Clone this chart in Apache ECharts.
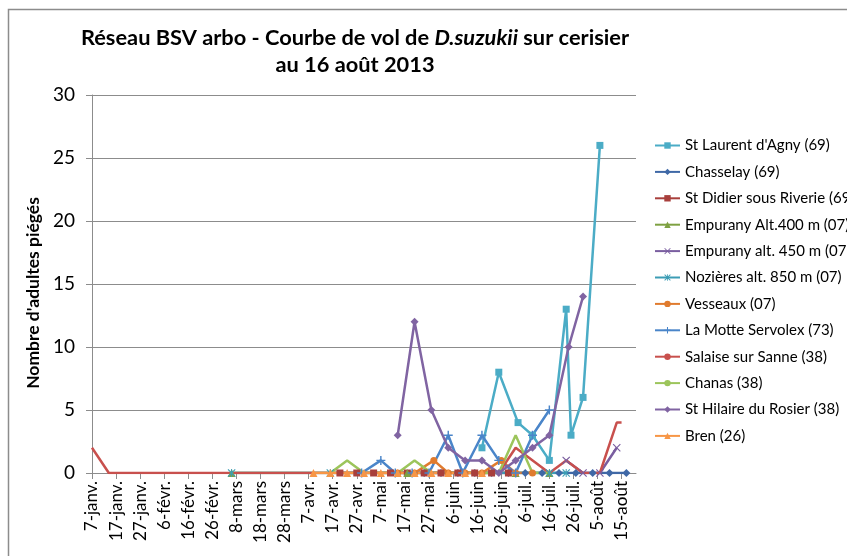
<!DOCTYPE html>
<html>
<head>
<meta charset="utf-8">
<script src="https://cdn.jsdelivr.net/npm/echarts@6/dist/echarts.min.js"></script>
<style>html,body{margin:0;padding:0;background:#fff;}#c{width:847px;height:556px;}</style>
</head>
<body>
<div id="c"></div>
<script>
// x values are day offsets from 7 janv. 2013
var tickLabels = ['7-janv.','17-janv.','27-janv.','6-févr.','16-févr.','26-févr.','8-mars','18-mars','28-mars','7-avr.','17-avr.','27-avr.','7-mai','17-mai','27-mai','6-juin','16-juin','26-juin','6-juil.','16-juil.','26-juil.','5-août','15-août'];

var seriesNames = ["St Laurent d'Agny (69)","Chasselay (69)","St Didier sous Riverie (69)","Empurany Alt.400 m (07)","Empurany alt. 450 m (07)","Nozières alt. 850 m (07)","Vesseaux (07)","La Motte Servolex (73)","Salaise sur Sanne (38)","Chanas (38)","St Hilaire du Rosier (38)","Bren (26)"];

var stLaurentDays = [162,169,177,183,190,197,199,204,211];
var stLaurentVals = [2,8,4,3,1,13,3,6,26];
var chasselayDays = [138,145,152,159,166,173,180,187,194,201,208,215,222];
var chasselayVals = [0,0,0,0,0,0,0,0,0,0,0,0,0];
var stDidierDays = [103,110,117,124,131,138,145,152,159,166,173];
var stDidierVals = [0,0,0,0,0,0,0,0,0,0,0];
var empurany400Days = [58,131,176,190];
var empurany400Vals = [0,0,0,0];
var empurany450Days = [197,204,211,218];
var empurany450Vals = [1,0,0,2];
var nozieresDays = [58,99,190,197];
var nozieresVals = [0,0,0,0];
var vesseauxDays = [127,134,142,148,155,162,170,176,183];
var vesseauxVals = [0,0,1,0,0,0,1,0,0];
var laMotteDays = [112,120,126,133,140,148,154,162,169,176,183,190];
var laMotteVals = [0,1,0,0,0,3,0,3,1,0,3,5];
var salaiseDays = [0,7,14,28,58,91,120,148,169,176,190,197,204,211,218,220];
var salaiseVals = [2,0,0,0,0,0,0,0,0,2,0,1,0,0,4,4];
var chanasDays = [99,106,113,120,127,134,141,148,155,162,169,176,183,190];
var chanasVals = [0,1,0,0,0,1,0,0,0,0,0,3,0,0];
var stHilaireDays = [127,134,141,148,155,162,169,176,183,190,198,204];
var stHilaireVals = [3,12,5,2,1,1,0,1,2,3,10,14];
var brenDays = [92,99,106,113,120,127,134,141,148,155,162];
var brenVals = [0,0,0,0,0,0,0,0,0,0,0];

var FONT = 'Lato';
var symX = 'path://M0,1L1,0L5,4L9,0L10,1L6,5L10,9L9,10L5,6L1,10L0,9L4,5Z';
var symPlus = 'path://M4.2,0H5.8V4.2H10V5.8H5.8V10H4.2V5.8H0V4.2H4.2Z';
var symStar = 'path://M0,1L1,0L5,4L9,0L10,1L6,5L10,9L9,10L5,6L1,10L0,9L4,5Z M4.4,0H5.6V10H4.4Z';

function pairs(d, v) { return d.map(function (x, i) { return [x, v[i]]; }); }

var defs = [
  [stLaurentDays, stLaurentVals, '#4BACC6', 'rect', 7],
  [chasselayDays, chasselayVals, '#3F68A6', 'diamond', 8],
  [stDidierDays, stDidierVals, '#A83F3C', 'rect', 7],
  [empurany400Days, empurany400Vals, '#7EA142', 'triangle', 8],
  [empurany450Days, empurany450Vals, '#7A5EA0', symX, 8],
  [nozieresDays, nozieresVals, '#3C9DB5', symStar, 8],
  [vesseauxDays, vesseauxVals, '#E07B2E', 'circle', 7],
  [laMotteDays, laMotteVals, '#4A85C9', symPlus, 9],
  [salaiseDays, salaiseVals, '#C8504D', 'none', 0],
  [chanasDays, chanasVals, '#9CC55B', 'none', 0],
  [stHilaireDays, stHilaireVals, '#8064A2', 'diamond', 8],
  [brenDays, brenVals, '#F79646', 'triangle', 8]
];

var series = defs.map(function (d, i) {
  return {
    name: seriesNames[i],
    type: 'line',
    data: pairs(d[0], d[1]),
    symbol: d[3],
    symbolSize: d[4],
    showSymbol: d[3] !== 'none',
    lineStyle: { color: d[2], width: 2.5 },
    itemStyle: { color: d[2], borderWidth: 0 },
    emphasis: { disabled: true },
    animation: false
  };
});

var chart = echarts.init(document.getElementById('c'), null, { renderer: 'canvas' });
chart.setOption({
  backgroundColor: '#fff',
  animation: false,
  title: {
    text: '{a|Réseau BSV arbo - Courbe de vol de }{i|D.suzukii}{a| sur cerisier}\n{a|au 16 août 2013}',
    left: 350,
    top: 19,
    textAlign: 'center',
    textStyle: {
      rich: {
        a: { fontFamily: FONT, fontWeight: 'bold', fontSize: 21.8, lineHeight: 27, color: '#000' },
        i: { fontFamily: FONT, fontWeight: 'bold', fontStyle: 'italic', fontSize: 21.8, lineHeight: 27, color: '#000' }
      }
    }
  },
  legend: {
    orient: 'vertical',
    left: 654,
    top: 137,
    padding: 0,
    itemWidth: 25,
    itemHeight: 8,
    itemGap: 9.4,
    textStyle: { fontFamily: FONT, fontSize: 15, color: '#000', lineHeight: 17 },
    data: seriesNames
  },
  grid: { left: 92, right: 211, top: 95, bottom: 83, containLabel: false },
  xAxis: {
    type: 'value',
    min: 0,
    max: 226,
    interval: 10,
    axisLine: { show: true, lineStyle: { color: '#8c8c8c', width: 1 } },
    axisTick: { show: true, length: 6, lineStyle: { color: '#8c8c8c' } },
    splitLine: { show: false },
    axisLabel: {
      rotate: 90,
      margin: 8,
      fontFamily: FONT,
      fontSize: 17,
      color: '#000',
      showMaxLabel: false,
      formatter: function (v) {
        if (v % 10 !== 0) return '';
        return tickLabels[v / 10] || '';
      }
    }
  },
  yAxis: {
    type: 'value',
    min: 0,
    max: 30,
    interval: 5,
    name: "Nombre d'adultes piégés",
    nameLocation: 'middle',
    nameGap: 44,
    nameTextStyle: { fontFamily: FONT, fontWeight: 'bold', fontSize: 17.5, color: '#000', padding: [0, 18, 0, 0] },
    axisLine: { show: true, lineStyle: { color: '#8c8c8c', width: 1 } },
    axisTick: { show: true, length: 6, lineStyle: { color: '#8c8c8c' } },
    splitLine: { show: true, lineStyle: { color: '#8c8c8c', width: 1 } },
    axisLabel: { fontFamily: FONT, fontSize: 19, color: '#000', margin: 17 }
  },
  graphic: [{
    type: 'rect',
    shape: { x: 8.5, y: 9.5, width: 860, height: 560 },
    style: { fill: 'none', stroke: '#8c8c8c', lineWidth: 1.5 },
    silent: true,
    z: -10
  }],
  series: series
});
</script>
</body>
</html>
